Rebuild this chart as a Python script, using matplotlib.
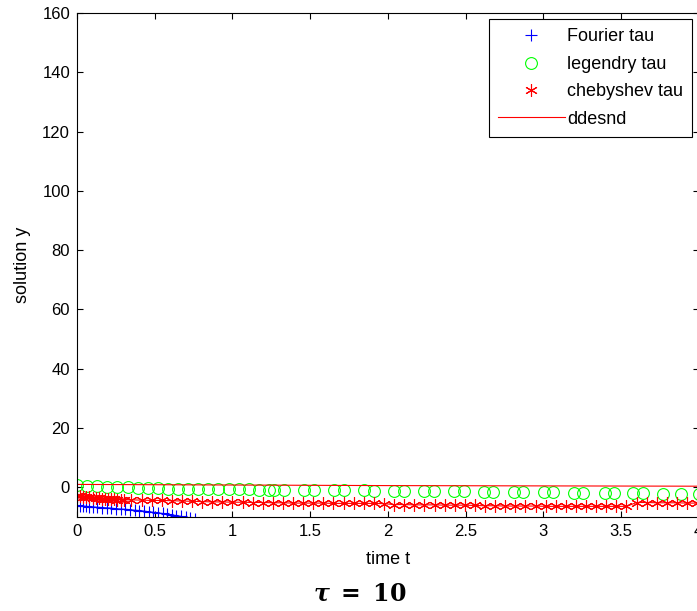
import matplotlib
matplotlib.use("Agg")
import matplotlib.pyplot as plt
from matplotlib.ticker import FormatStrFormatter

plt.rcParams['font.family'] = ['Liberation Sans', 'DejaVu Sans']
plt.rcParams['mathtext.fontset'] = 'dejavuserif'

# Fourier tau (blue +)
fourier_t = [0.0, 0.02, 0.04, 0.06, 0.08, 0.10, 0.13, 0.16, 0.19, 0.22, 0.25,
             0.28, 0.31, 0.34, 0.37, 0.40, 0.43, 0.46, 0.49, 0.52, 0.55, 0.58,
             0.61, 0.64, 0.67, 0.70, 0.73, 0.76]
fourier_y = [-6.1, -6.2, -6.3, -6.4, -6.5, -6.6, -6.7, -6.8, -6.9, -7.0, -7.2,
             -7.3, -7.4, -7.5, -7.7, -7.8, -8.0, -8.2, -8.4, -8.6, -8.8, -9.0,
             -9.3, -9.5, -9.8, -10.1, -10.4, -10.7]

# legendry tau (green o)
legendre_t = [0.0, 0.065, 0.13, 0.195, 0.26, 0.325, 0.39, 0.455, 0.52, 0.585,
              0.65, 0.715, 0.78, 0.845, 0.91, 0.975, 1.04, 1.105, 1.17, 1.235,
              1.27, 1.33, 1.458, 1.523, 1.652, 1.716, 1.845, 1.91, 2.039, 2.103,
              2.232, 2.297, 2.426, 2.49, 2.619, 2.677, 2.813, 2.871, 3.006,
              3.065, 3.2, 3.258, 3.394, 3.452, 3.58, 3.639, 3.768, 3.884, 4.0]
legendre_y = [0.7, 0.5, 0.3, 0.2, 0.1, 0.0, -0.1, -0.2, -0.3, -0.4,
              -0.5, -0.5, -0.6, -0.6, -0.6, -0.7, -0.7, -0.7, -0.8, -0.8,
              -0.8, -0.8, -0.9, -0.9, -1.0, -1.0, -1.0, -1.1, -1.1, -1.1,
              -1.2, -1.2, -1.3, -1.3, -1.5, -1.5, -1.6, -1.6, -1.7,
              -1.7, -1.8, -1.8, -1.9, -1.9, -2.0, -2.0, -2.1, -2.1, -2.2]

# chebyshev tau (red *)
cheb_t = [0.0, 0.02, 0.04, 0.06, 0.08, 0.10, 0.12, 0.14, 0.16, 0.18, 0.20,
          0.22, 0.24, 0.26, 0.28, 0.30, 0.35, 0.415, 0.48, 0.545, 0.61, 0.675,
          0.74, 0.805, 0.87, 0.935, 1.0, 1.065, 1.13, 1.195, 1.26, 1.325, 1.39,
          1.455, 1.52, 1.585, 1.65, 1.715, 1.78, 1.845, 1.91, 1.975, 2.04,
          2.105, 2.17, 2.235, 2.3, 2.365, 2.43, 2.495, 2.56, 2.625, 2.69,
          2.755, 2.82, 2.885, 2.95, 3.015, 3.08, 3.145, 3.21, 3.275, 3.34,
          3.405, 3.47, 3.535, 3.6, 3.665, 3.73, 3.795, 3.86, 3.925, 3.99]
cheb_y = [-2.8, -3.0, -3.2, -3.3, -3.4, -3.5, -3.6, -3.7, -3.8, -3.9, -3.9,
          -4.0, -4.0, -4.1, -4.1, -4.2, -4.2, -4.3, -4.4, -4.4, -4.5, -4.6,
          -4.7, -4.8, -4.9, -4.9, -5.0, -5.0, -5.1, -5.1, -5.2, -5.2, -5.3,
          -5.3, -5.3, -5.3, -5.4, -5.4, -5.4, -5.4, -5.4, -5.5, -5.8,
          -5.8, -5.9, -5.9, -5.9, -6.0, -6.0, -6.0, -6.1, -6.2, -6.2,
          -6.3, -6.3, -6.3, -6.3, -6.4, -6.4, -6.4, -6.4, -6.4, -6.4,
          -6.4, -6.4, -6.4, -5.1, -5.1, -5.2, -5.2, -5.2, -5.3, -5.3]

# ddesnd (red line)
dde_t = [0.0, 1.0, 2.0, 3.0, 4.0]
dde_y = [1.0, 0.8, 0.6, 0.5, 0.4]

fig = plt.figure(figsize=(6.97, 6.11), dpi=100)
ax = fig.add_axes([0.1105, 0.1538, 0.892, 0.8249])

# thin lines through the marker series (not in legend)
ax.plot(fourier_t, fourier_y, 'b-', linewidth=0.8)
ax.plot(cheb_t, cheb_y, 'r-', linewidth=0.8)

ax.plot(fourier_t, fourier_y, 'b+', markersize=9, markeredgewidth=0.8,
        label='Fourier tau')
ax.plot(legendre_t, legendre_y, 'o', color=(0, 1, 0), markerfacecolor='none',
        markersize=8.5, markeredgewidth=0.8, label='legendry tau')
ax.plot(cheb_t, cheb_y, 'r', linestyle='none', marker=(6, 2, 0), markersize=9,
        markeredgewidth=0.8, label='chebyshev tau')
ax.plot(dde_t, dde_y, 'r-', linewidth=0.8, label='ddesnd')

ax.set_xlim(0, 4)
ax.set_ylim(-10, 160)
ax.set_xticks([0, 0.5, 1, 1.5, 2, 2.5, 3, 3.5, 4])
ax.set_yticks([0, 20, 40, 60, 80, 100, 120, 140, 160])
ax.xaxis.set_major_formatter(FormatStrFormatter('%g'))
ax.yaxis.set_major_formatter(FormatStrFormatter('%g'))
ax.tick_params(direction='in', top=True, right=True, length=4, width=0.8,
               labelsize=12, pad=5)
for s in ax.spines.values():
    s.set_linewidth(0.8)

ax.set_xlabel('time t', fontsize=13, labelpad=9)
ax.set_ylabel('solution y', fontsize=13, labelpad=8)

leg = ax.legend(loc='upper right', fontsize=13, fancybox=False, shadow=False,
                edgecolor='black', framealpha=1, borderaxespad=0.35,
                handlelength=3.7, handletextpad=0.15, labelspacing=0.58,
                borderpad=0.5)
leg.get_frame().set_linewidth(0.8)

fig.text(0.516, 0.026, r'$\boldsymbol{\tau}\ \mathbf{=\ 10}$', fontsize=17,
         ha='center', va='center')

fig.savefig('out.png', dpi=100)
